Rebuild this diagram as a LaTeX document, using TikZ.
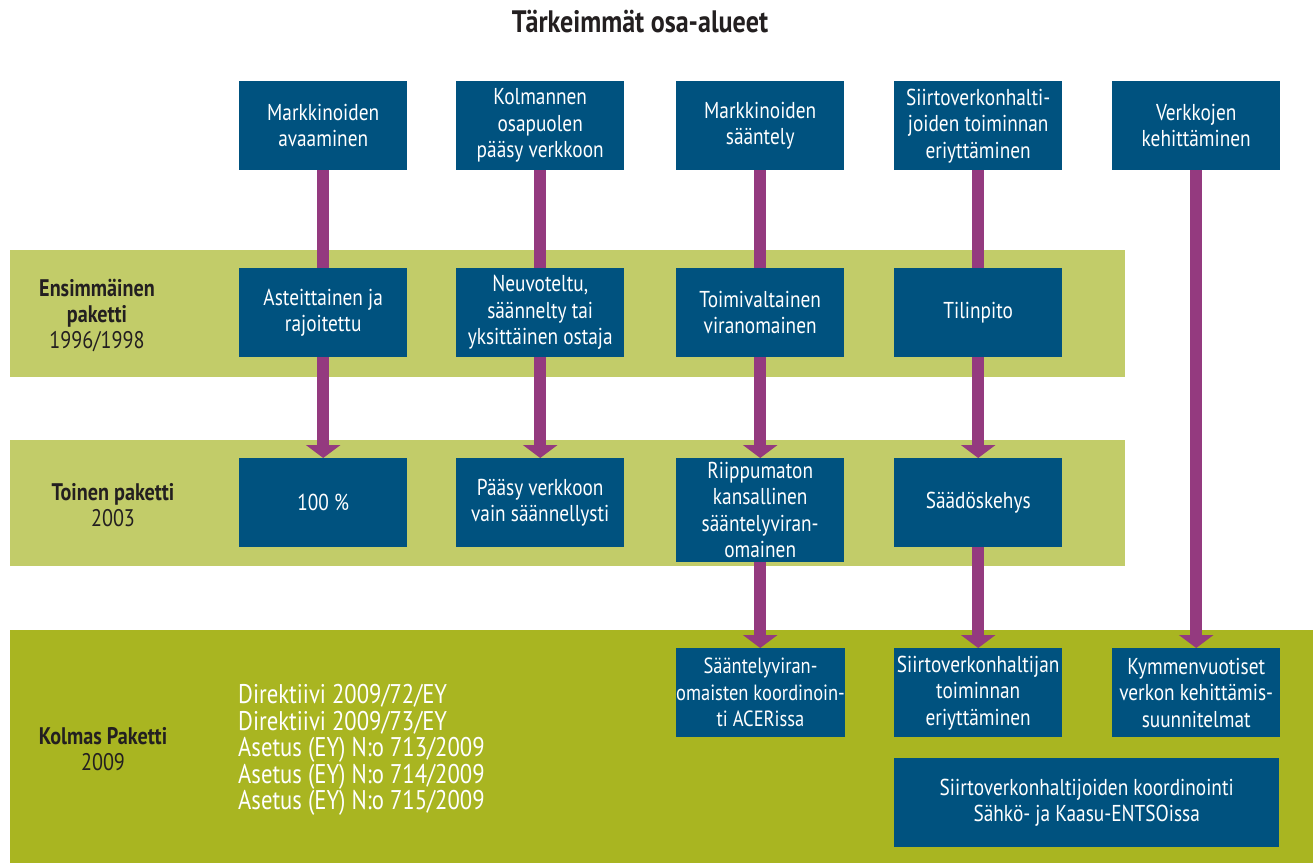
\documentclass[tikz,border=0pt]{standalone}
\usepackage{fontspec}
\setmainfont{PT Sans}[FakeStretch=0.84]
\usetikzlibrary{arrows.meta}
\definecolor{boxblue}{HTML}{00527F}
\definecolor{arrowpurple}{HTML}{943A7F}
\definecolor{lightgreen}{HTML}{C2CC69}
\definecolor{darkgreen}{HTML}{A9B521}
\definecolor{labeltext}{HTML}{231F20}
\begin{document}
\begin{tikzpicture}[x=1pt,y=-1pt,
  bx/.style={fill=boxblue, text=white, minimum width=168pt, minimum height=89pt,
    align=center, inner sep=0pt, font=\fontsize{23}{26.5}\selectfont, anchor=north west},
  band/.style={fill=#1, draw=none},
  pkg/.style={text=labeltext, align=center, font=\fontsize{24}{26}\selectfont},
  con/.style={draw=arrowpurple, line width=12pt},
  arr/.style={con, -{Triangle[width=34pt,length=13pt]}}]
\useasboundingbox (0,0) rectangle (1313,863);
% bands
\fill[band=lightgreen] (10,250) rectangle (1125,377);
\fill[band=lightgreen] (10,440) rectangle (1125,566);
\fill[band=darkgreen] (10,630) rectangle (1313,863);
% title
\node[font=\bfseries\fontsize{31}{34}\selectfont, text=labeltext] (title) at (640,22) {Tärkeimmät osa-alueet};
% package labels
\node[pkg] (p1) at (97,316) {\textbf{Ensimmäinen}\\\textbf{paketti}\\1996/1998};
\node[pkg] (p2) at (113,505) {\textbf{Toinen paketti}\\2003};
\node[pkg] (p3) at (103,749) {\textbf{Kolmas Paketti}\\2009};
\node[text=white, align=left, anchor=west, font=\fontsize{27}{26.5}\selectfont, inner sep=0pt] (dir) at (238,750)
 {Direktiivi 2009/72/EY\\Direktiivi 2009/73/EY\\Asetus (EY) N:o 713/2009\\Asetus (EY) N:o 714/2009\\Asetus (EY) N:o 715/2009};
% top row
\node[bx] (t1) at (239,81) {Markkinoiden\\avaaminen};
\node[bx] (t2) at (456,81) {Kolmannen\\osapuolen\\pääsy verkkoon};
\node[bx] (t3) at (676,81) {Markkinoiden\\sääntely};
\node[bx] (t4) at (894,81) {Siirtoverkonhalti-\\joiden toiminnan\\eriyttäminen};
\node[bx] (t5) at (1112,81) {Verkkojen\\kehittäminen};
% first package
\node[bx] (a1) at (239,268) {Asteittainen ja\\rajoitettu};
\node[bx] (a2) at (456,268) {Neuvoteltu,\\säännelty tai\\yksittäinen ostaja};
\node[bx] (a3) at (676,268) {Toimivaltainen\\viranomainen};
\node[bx] (a4) at (894,268) {Tilinpito};
% second package
\node[bx] (b1) at (239,458) {100 \%};
\node[bx] (b2) at (456,458) {Pääsy verkkoon\\vain säännellysti};
\node[bx, minimum height=104pt] (b3) at (676,458) {Riippumaton\\kansallinen\\sääntelyviran-\\omainen};
\node[bx] (b4) at (894,458) {Säädöskehys};
% third package
\node[bx, font=\fontsize{22}{26.5}\selectfont] (c3) at (676,648) {Sääntelyviran-\\omaisten koordinoin-\\ti ACERissa};
\node[bx] (c4) at (894,648) {Siirtoverkonhaltijan\\toiminnan\\eriyttäminen};
\node[bx] (c5) at (1112,648) {Kymmenvuotiset\\verkon kehittämis-\\suunnitelmat};
\node[bx, minimum width=385pt] (c6) at (894,758) {Siirtoverkonhaltijoiden koordinointi\\Sähkö- ja Kaasu-ENTSOissa};
% connectors
\draw[con] (t1.south) -- (t1.south |- a1.north);
\draw[con] (t2.south) -- (t2.south |- a2.north);
\draw[con] (t3.south) -- (t3.south |- a3.north);
\draw[con] (t4.south) -- (t4.south |- a4.north);
\draw[arr] (a1.south) -- (a1.south |- b1.north);
\draw[arr] (a2.south) -- (a2.south |- b2.north);
\draw[arr] (a3.south) -- (a3.south |- b3.north);
\draw[arr] (a4.south) -- (a4.south |- b4.north);
\draw[arr] (b3.south) -- (b3.south |- c3.north);
\draw[arr] (b4.south) -- (b4.south |- c4.north);
\draw[arr] (t5.south) -- (t5.south |- c5.north);
\end{tikzpicture}
\end{document}
